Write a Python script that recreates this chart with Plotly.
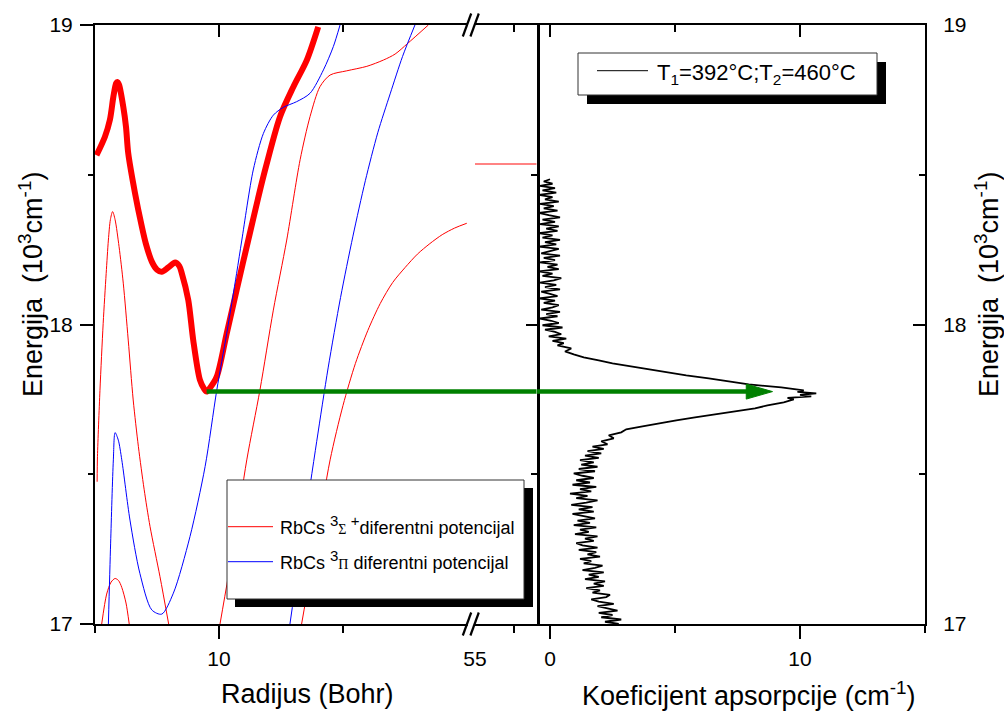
import plotly.graph_objects as go

W, H = 1004, 713
FONT = "Liberation Sans, Arial, sans-serif"

# ---------------- data ----------------
# thick red: RbCs difference potential (main)
main_R = [5.06, 5.40, 5.60, 5.74, 5.85, 5.90, 5.97, 6.14, 6.25, 6.34, 6.61, 6.88, 7.05, 7.29, 7.50,
          7.69, 7.95, 8.23, 8.40, 8.50, 8.76, 8.96, 9.23, 9.40, 9.50, 9.65, 9.91, 10.31, 10.71,
          11.18, 11.79, 12.46, 13.00, 13.54, 14.00]
main_E = [18.565, 18.627, 18.683, 18.76, 18.805, 18.81, 18.80, 18.727, 18.66, 18.572, 18.44, 18.33,
          18.27, 18.21, 18.183, 18.176, 18.19, 18.207, 18.195, 18.171, 18.082, 17.948, 17.815, 17.785,
          17.776, 17.79, 17.826, 17.97, 18.115, 18.282, 18.494, 18.694, 18.794, 18.883, 18.994]

# thin red (3Sigma+) curves
red1_R = [5.085, 5.10, 5.20, 5.33, 5.45, 5.54, 5.62, 5.71, 5.81, 5.97, 6.14, 6.34, 6.54, 6.75, 6.98, 7.22, 7.62, 7.97]
red1_E = [17.475, 17.56, 17.78, 18.004, 18.17, 18.282, 18.35, 18.377, 18.35, 18.26, 18.138, 17.948, 17.748,
          17.592, 17.45, 17.325, 17.158, 17.0]
red2_R = [5.27, 5.47, 5.65, 5.81, 5.95, 6.08, 6.25, 6.38]
red2_E = [17.0, 17.10, 17.14, 17.152, 17.145, 17.122, 17.07, 17.0]
red3_R = [10.04, 10.60, 11.12, 11.65, 12.19, 12.73, 13.27, 13.67, 14.07, 14.48, 15.15, 15.96, 16.63, 17.10, 17.60, 18.44]
red3_E = [17.0, 17.27, 17.548, 17.781, 18.048, 18.282, 18.55, 18.694, 18.794, 18.833, 18.847, 18.862, 18.883,
          18.903, 18.938, 19.0]
red4_R = [13.33, 13.90, 14.48, 15.00, 15.50, 16.00, 16.50, 17.00, 17.50, 18.00, 18.50, 19.00, 19.50, 19.99]
red4_E = [17.0, 17.27, 17.548, 17.73, 17.87, 17.98, 18.07, 18.14, 18.19, 18.235, 18.27, 18.30, 18.322, 18.338]
red_far_R = [55.0, 62.9]
red_far_E = [18.536, 18.536]

# thin blue (3Pi) curves
blue1_R = [5.54, 5.63, 5.74, 5.81, 5.94, 6.08, 6.41, 6.81, 7.29, 7.69, 8.16, 8.83, 9.44, 9.91, 10.31, 10.71,
           10.92, 11.38, 11.79, 12.19, 12.59, 13.13, 13.67, 14.21, 14.61, 14.88]
blue1_E = [17.0, 17.27, 17.548, 17.639, 17.614, 17.548, 17.347, 17.169, 17.047, 17.033, 17.103, 17.292, 17.526,
           17.781, 17.97, 18.171, 18.282, 18.516, 18.638, 18.699, 18.725, 18.744, 18.772, 18.85, 18.928, 19.0]
blue2_R = [12.86, 13.40, 13.94, 14.40, 14.90, 15.40, 15.90, 16.40, 16.90, 17.40, 17.90]
blue2_E = [17.0, 17.31, 17.61, 17.855, 18.09, 18.295, 18.48, 18.64, 18.77, 18.895, 19.0]

# absorption spectrum (energy, coefficient): low-energy wing, peak, high-energy tail
abs_E_low = [17.0000, 17.0075, 17.0150, 17.0225, 17.0300, 17.0375, 17.0450, 17.0525, 17.0600, 17.0675,
             17.0750, 17.0825, 17.0900, 17.0975, 17.1050, 17.1125, 17.1200, 17.1275, 17.1350, 17.1425,
             17.1500, 17.1575, 17.1650, 17.1725, 17.1800, 17.1875, 17.1950, 17.2025, 17.2100, 17.2175,
             17.2250, 17.2325, 17.2400, 17.2475, 17.2550, 17.2625, 17.2700, 17.2775, 17.2850, 17.2925,
             17.3000, 17.3075, 17.3150, 17.3225, 17.3300, 17.3375, 17.3450, 17.3525, 17.3600, 17.3675,
             17.3750, 17.3825, 17.3900, 17.3975, 17.4050, 17.4125, 17.4200, 17.4275, 17.4350, 17.4425,
             17.4500, 17.4575, 17.4650, 17.4725, 17.4800, 17.4875, 17.4950, 17.5025, 17.5100, 17.5175,
             17.5250, 17.5325, 17.5400, 17.5475, 17.5550, 17.5625, 17.5700, 17.5775, 17.5850, 17.5925, 17.6000]
abs_K_low = [2.75, 2.2, 2.85, 2.05, 2.5, 1.95, 2.7, 2.35, 1.9, 2.55,
             1.95, 1.65, 2.25, 2.4, 1.7, 2.0, 1.45, 2.15, 1.75, 2.2,
             1.4, 1.95, 1.55, 2.15, 1.3, 1.8, 2.1, 1.35, 1.65, 1.2,
             2.0, 1.5, 1.85, 1.15, 1.9, 1.3, 1.05, 1.75, 1.4, 1.9,
             1.0, 1.55, 1.2, 1.85, 0.95, 1.6, 1.1, 1.8, 1.3, 0.9,
             1.75, 1.15, 1.7, 0.85, 1.45, 1.9, 1.05, 1.5, 0.8, 1.65,
             1.2, 1.85, 0.9, 1.6, 1.05, 1.75, 1.3, 0.95, 1.8, 1.15,
             1.9, 1.25, 1.75, 1.2, 1.95, 1.4, 2.05, 1.5, 2.15, 1.7, 2.3]
abs_E_peak = [17.610, 17.620, 17.630, 17.640, 17.650, 17.660, 17.670, 17.680, 17.690, 17.700, 17.710, 17.720,
              17.730, 17.740, 17.750, 17.755, 17.760, 17.765, 17.770, 17.775, 17.780, 17.790, 17.800, 17.810,
              17.820, 17.830, 17.840, 17.850, 17.860, 17.870, 17.880, 17.890, 17.900, 17.910, 17.920, 17.930]
abs_K_peak = [2.05, 2.55, 2.35, 2.85, 3.05, 3.7, 4.3, 5.05, 5.8, 6.65, 7.45, 8.2,
              8.7, 9.35, 9.75, 9.5, 10.45, 10.0, 10.65, 9.9, 10.15, 9.25, 7.95, 7.2,
              6.35, 5.45, 4.7, 3.9, 3.25, 2.5, 1.95, 1.35, 0.95, 0.6, 0.85, 0.3]
abs_E_high = [17.9375, 17.9450, 17.9525, 17.9600, 17.9675, 17.9750, 17.9825, 17.9900, 17.9975, 18.0050,
              18.0125, 18.0200, 18.0275, 18.0350, 18.0425, 18.0500, 18.0575, 18.0650, 18.0725, 18.0800,
              18.0875, 18.0950, 18.1025, 18.1100, 18.1175, 18.1250, 18.1325, 18.1400, 18.1475, 18.1550,
              18.1625, 18.1700, 18.1775, 18.1850, 18.1925, 18.2000, 18.2075, 18.2150, 18.2225, 18.2300,
              18.2375, 18.2450, 18.2525, 18.2600, 18.2675, 18.2750, 18.2825, 18.2900, 18.2975, 18.3050,
              18.3125, 18.3200, 18.3275, 18.3350, 18.3425, 18.3500, 18.3575, 18.3650, 18.3725, 18.3800,
              18.3875, 18.3950, 18.4025, 18.4100, 18.4175, 18.4250, 18.4325, 18.4400, 18.4475, 18.4550,
              18.4625, 18.4700, 18.4775, 18.4850]
abs_K_high = [0.55, 0.1, 0.65, -0.05, 0.45, 0.2, -0.2, 0.5, -0.3, 0.35,
              0.05, -0.4, 0.3, -0.15, 0.4, -0.35, 0.1, 0.35, -0.25, 0.2,
              -0.45, 0.3, 0.0, -0.35, 0.4, -0.2, 0.25, -0.4, 0.15, 0.45,
              -0.3, 0.1, -0.45, 0.35, -0.1, 0.3, -0.4, 0.2, -0.25, 0.4,
              -0.35, 0.05, 0.35, -0.45, 0.25, -0.2, 0.4, -0.3, 0.1, -0.45,
              0.3, -0.15, 0.35, -0.4, 0.2, -0.3, 0.4, -0.05, -0.45, 0.3,
              -0.25, 0.15, -0.4, 0.35, -0.2, 0.1, -0.45, 0.25, -0.3, 0.2,
              -0.4, 0.1, -0.25, 0.0]
abs_E = abs_E_low + abs_E_peak + abs_E_high
abs_K = abs_K_low + abs_K_peak + abs_K_high

# axes ranges and ticks
X1_RANGE = [5.0, 20.16]
X2_RANGE = [54.487, 62.91]
X3_RANGE = [-0.532, 15.0]
Y_RANGE = [17.0, 19.0]
X1_MAJOR, X1_MINOR = [10], [5, 15]
X2_MAJOR, X2_MINOR = [55], [60]
X3_MAJOR, X3_MINOR = [0, 10], [5, 15]
Y_MAJOR, Y_MINOR = [17, 18, 19], [17.5, 18.5]

ARROW_TIP = 8.9
HEAD_LEN = 1.05
HEAD_HALF = 0.025

SUP = "<sup><span style='font-size:15px'>{}</span></sup>"
SYM = "<span style='font-family:Liberation Serif;font-size:14px'>{}</span>"
LEG_LEFT = ["RbCs " + SUP.format("3") + SYM.format("Σ") + SUP.format(" +") + "diferentni potencijal",
            "RbCs " + SUP.format("3") + SYM.format("Π") + " diferentni potencijal"]
LEG_RIGHT = "T<sub>1</sub>=392°C;T<sub>2</sub>=460°C"

# ---------------- helpers ----------------
def PX(x):
    return x / W

def PY(y):
    return 1 - y / H

RED, BLUE, GREEN = "#ff0000", "#0000ff", "#008000"

fig = go.Figure()

def line(x, y, xa, ya, color, width, shape="spline"):
    fig.add_trace(go.Scatter(x=x, y=y, xaxis=xa, yaxis=ya, mode="lines",
                             line=dict(color=color, width=width, shape=shape, smoothing=0.8),
                             showlegend=False, hoverinfo="skip"))

line(main_R, main_E, "x", "y", RED, 6)
line(red1_R, red1_E, "x", "y", RED, 1)
line(red2_R, red2_E, "x", "y", RED, 1)
line(blue1_R, blue1_E, "x", "y", BLUE, 1)
line(red3_R, red3_E, "x", "y", RED, 1)
line(blue2_R, blue2_E, "x", "y", BLUE, 1)
line(red4_R, red4_E, "x", "y", RED, 1)
line(red_far_R, red_far_E, "x2", "y", "#ff5a5a", 1.5, "linear")
line(abs_K, abs_E, "x3", "y2", "black", 1.8, "linear")

# green arrow from the minimum of the main potential to the absorption band
i_min = main_E.index(min(main_E))
ARROW_Y = main_E[i_min]
ARROW_R = main_R[i_min]
line([ARROW_R, X1_RANGE[1]], [ARROW_Y, ARROW_Y], "x", "y", GREEN, 4.5, "linear")
line([X2_RANGE[0], X2_RANGE[1]], [ARROW_Y, ARROW_Y], "x2", "y", GREEN, 4.5, "linear")
line([X3_RANGE[0], ARROW_TIP - HEAD_LEN * 0.8], [ARROW_Y, ARROW_Y], "x3", "y2", GREEN, 4.5, "linear")

# empty traces so overlay axes exist
for xa, ya in [("x4", "y"), ("x5", "y"), ("x6", "y2"), ("x2", "y3")]:
    fig.add_trace(go.Scatter(x=[], y=[], xaxis=xa, yaxis=ya, showlegend=False, hoverinfo="skip"))

shapes = []
# arrow head
shapes.append(dict(type="path", xref="x3", yref="y2",
                   path=f"M{ARROW_TIP},{ARROW_Y} L{ARROW_TIP - HEAD_LEN},{ARROW_Y + HEAD_HALF} "
                        f"L{ARROW_TIP - HEAD_LEN},{ARROW_Y - HEAD_HALF} Z",
                   fillcolor=GREEN, line=dict(color=GREEN, width=1)))

# axis break marks
for yb in [25, 624]:
    shapes.append(dict(type="line", xref="paper", yref="paper", x0=PX(467.8), x1=PX(474.2),
                       y0=PY(yb), y1=PY(yb), line=dict(color="white", width=5), layer="above"))
    for xc in [467.0, 474.6]:
        shapes.append(dict(type="line", xref="paper", yref="paper",
                           x0=PX(xc - 4.2), y0=PY(yb + 11.5), x1=PX(xc + 4.2), y1=PY(yb - 11.5),
                           line=dict(color="black", width=2.2), layer="above"))

# left legend
shapes.append(dict(type="rect", xref="paper", yref="paper", x0=PX(235), x1=PX(533), y0=PY(607), y1=PY(488),
                   fillcolor="black", line=dict(width=0), layer="above"))
shapes.append(dict(type="rect", xref="paper", yref="paper", x0=PX(227), x1=PX(524), y0=PY(599), y1=PY(480),
                   fillcolor="white", line=dict(color="#333333", width=1), layer="above"))
shapes.append(dict(type="line", xref="paper", yref="paper", x0=PX(228), x1=PX(273), y0=PY(526.7), y1=PY(526.7),
                   line=dict(color=RED, width=1), layer="above"))
shapes.append(dict(type="line", xref="paper", yref="paper", x0=PX(228), x1=PX(273), y0=PY(561.7), y1=PY(561.7),
                   line=dict(color=BLUE, width=1), layer="above"))
# right legend
shapes.append(dict(type="rect", xref="paper", yref="paper", x0=PX(587), x1=PX(886), y0=PY(104), y1=PY(62),
                   fillcolor="black", line=dict(width=0), layer="above"))
shapes.append(dict(type="rect", xref="paper", yref="paper", x0=PX(578), x1=PX(877), y0=PY(95), y1=PY(53),
                   fillcolor="white", line=dict(color="#333333", width=1), layer="above"))
shapes.append(dict(type="line", xref="paper", yref="paper", x0=PX(597), x1=PX(648), y0=PY(70.7), y1=PY(70.7),
                   line=dict(color="black", width=1), layer="above"))

ann = []
def text(t, x, y, size, angle=0, xanchor="center"):
    ann.append(dict(text=t, x=PX(x), y=PY(y), xref="paper", yref="paper", showarrow=False,
                    xanchor=xanchor, yanchor="middle", textangle=angle,
                    font=dict(family=FONT, size=size, color="black")))

text(LEG_LEFT[0], 278, 525, 18, xanchor="left")
text(LEG_LEFT[1], 278, 560, 18, xanchor="left")
text(LEG_RIGHT, 655, 74, 22, xanchor="left")
text("Radijus (Bohr)", 307, 694, 27)
text("Koeficijent apsorpcije (cm<sup>-1</sup>)", 748, 694, 27)
text("Energija\u00a0 (10<sup>3</sup>cm<sup>-1</sup>)", 31, 285, 27, angle=-90)
text("Energija\u00a0 (10<sup>3</sup>cm<sup>-1</sup>)", 987, 285, 27, angle=-90)

TF = dict(family=FONT, size=21, color="black")
base = dict(showline=True, linecolor="black", linewidth=2, showgrid=False, zeroline=False,
            tickfont=TF, tickwidth=2, tickcolor="black", tickmode="array", automargin=False)

def minor(vals, ticks, ln):
    return dict(tickmode="array", tickvals=vals, ticks=ticks, ticklen=ln, tickwidth=2,
                tickcolor="black", showgrid=False)

ydom = [PY(624), PY(25)]
d1 = [PX(95), PX(471)]
d2 = [PX(471), PX(536.7)]
d3 = [PX(536.7), PX(925)]

fig.update_layout(
    width=W, height=H, margin=dict(l=0, r=0, t=0, b=0, pad=0), autosize=False,
    paper_bgcolor="white", plot_bgcolor="rgba(0,0,0,0)", showlegend=False,
    xaxis=dict(base, domain=d1, range=X1_RANGE, anchor="y", tickvals=X1_MAJOR,
               ticktext=[str(v) for v in X1_MAJOR], ticks="outside", ticklen=13,
               minor=minor(X1_MINOR, "outside", 7), ticklabelstandoff=2),
    xaxis2=dict(base, domain=d2, range=X2_RANGE, anchor="y", tickvals=X2_MAJOR,
                ticktext=[str(v) for v in X2_MAJOR], ticks="outside", ticklen=13,
                tickcolor="rgba(0,0,0,0)", minor=minor(X2_MINOR, "outside", 7), ticklabelstandoff=2),
    xaxis3=dict(base, domain=d3, range=X3_RANGE, anchor="y2", tickvals=X3_MAJOR,
                ticktext=[str(v) for v in X3_MAJOR], ticks="outside", ticklen=13,
                minor=minor(X3_MINOR, "outside", 7), ticklabelstandoff=2),
    xaxis4=dict(base, overlaying="x", range=X1_RANGE, anchor="y", side="top", tickvals=X1_MAJOR,
                ticks="inside", ticklen=12, showticklabels=False, minor=minor(X1_MINOR, "inside", 7)),
    xaxis5=dict(base, overlaying="x2", range=X2_RANGE, anchor="y", side="top", tickvals=[],
                ticks="", showticklabels=False, minor=minor(X2_MINOR, "inside", 7)),
    xaxis6=dict(base, overlaying="x3", range=X3_RANGE, anchor="y2", side="top", tickvals=X3_MAJOR,
                ticks="inside", ticklen=12, showticklabels=False, minor=minor(X3_MINOR, "inside", 7)),
    yaxis=dict(base, domain=ydom, range=Y_RANGE, anchor="x", side="left", tickvals=Y_MAJOR,
               ticktext=[str(v) for v in Y_MAJOR], ticks="outside", ticklen=13,
               minor=minor(Y_MINOR, "outside", 5), ticklabelstandoff=3),
    yaxis2=dict(base, domain=ydom, range=Y_RANGE, anchor="x3", side="right", tickvals=Y_MAJOR,
                ticktext=[str(v) for v in Y_MAJOR], ticks="inside", ticklen=12,
                minor=minor(Y_MINOR, "inside", 6), ticklabelstandoff=12),
    yaxis3=dict(base, overlaying="y", range=Y_RANGE, anchor="x2", side="right", tickvals=Y_MAJOR,
                ticks="inside", ticklen=11, showticklabels=False, linewidth=2.5,
                minor=minor(Y_MINOR, "inside", 6)),
    shapes=shapes, annotations=ann,
)

fig.write_html("out.html")
